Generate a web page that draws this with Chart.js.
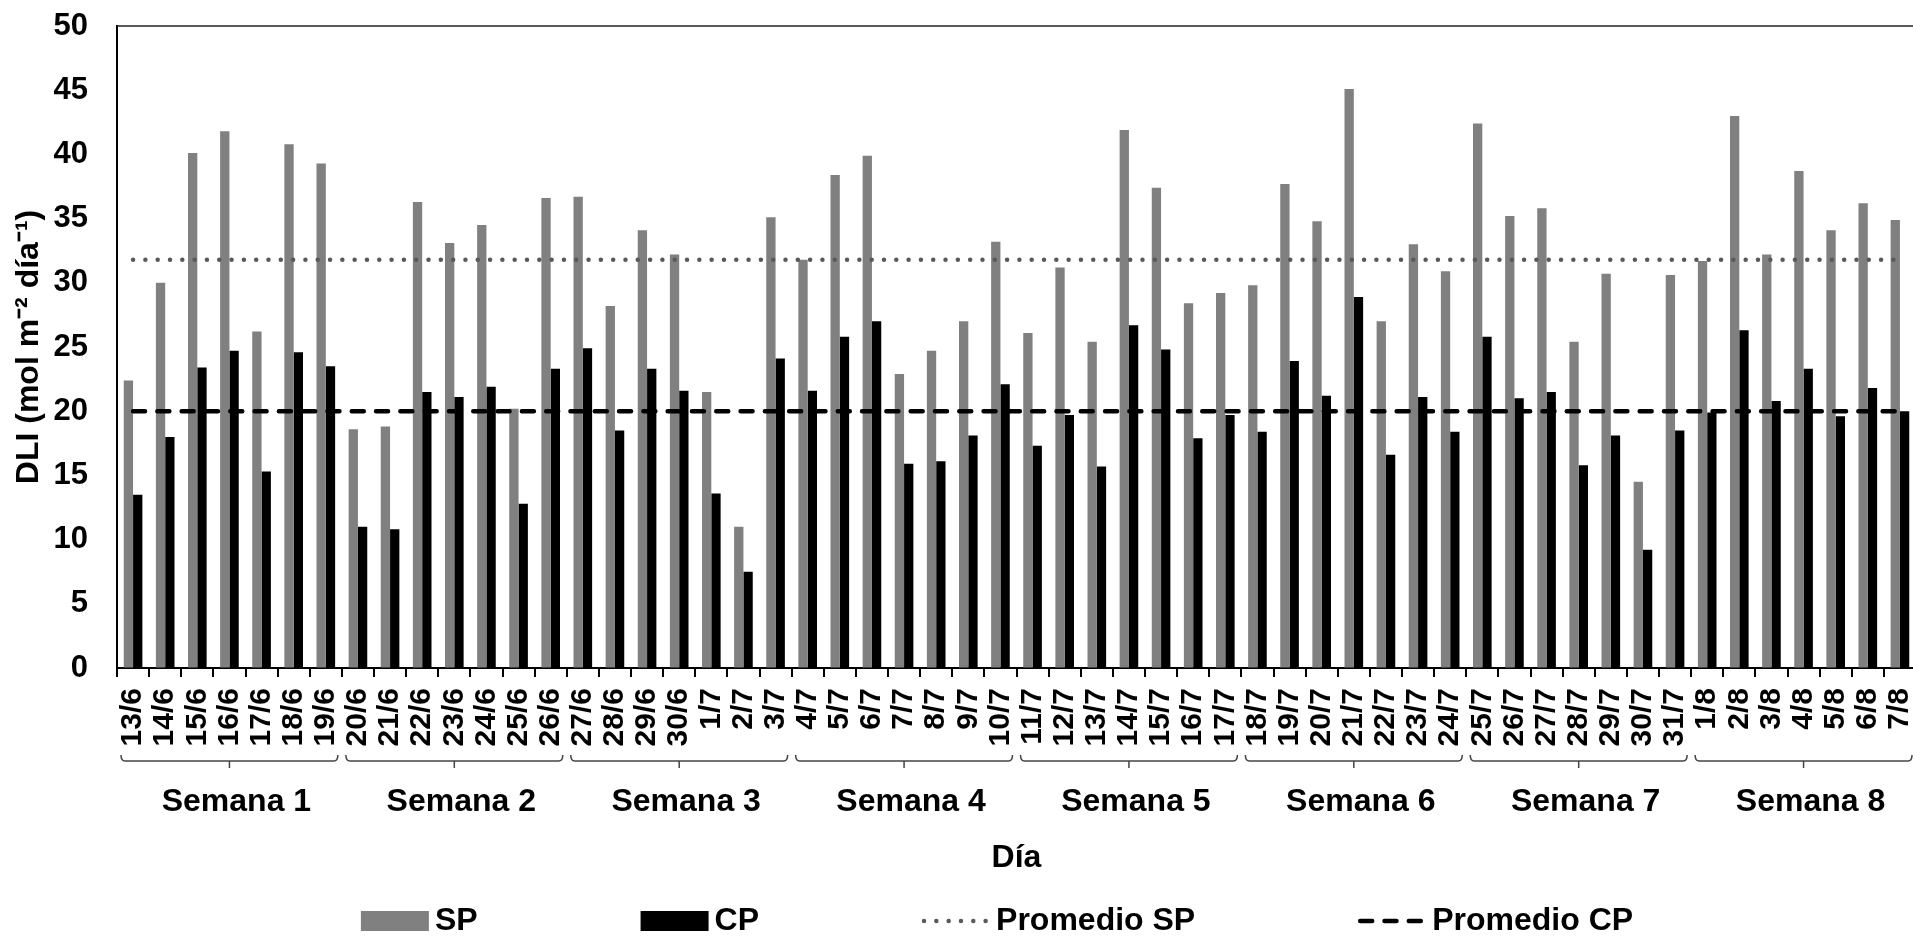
<!DOCTYPE html>
<html>
<head>
<meta charset="utf-8">
<script src="https://cdn.jsdelivr.net/npm/chart.js@4.4.1/dist/chart.umd.min.js"></script>
<style>
  html, body { margin: 0; padding: 0; background: #fff; overflow: hidden; }
  #grafico { display: block; }
</style>
</head>
<body>
<canvas id="grafico" width="1920" height="936"></canvas>
<script>
const dias = [
  "13/6", "14/6", "15/6", "16/6", "17/6", "18/6", "19/6",
  "20/6", "21/6", "22/6", "23/6", "24/6", "25/6", "26/6",
  "27/6", "28/6", "29/6", "30/6", "1/7", "2/7", "3/7",
  "4/7", "5/7", "6/7", "7/7", "8/7", "9/7", "10/7",
  "11/7", "12/7", "13/7", "14/7", "15/7", "16/7", "17/7",
  "18/7", "19/7", "20/7", "21/7", "22/7", "23/7", "24/7",
  "25/7", "26/7", "27/7", "28/7", "29/7", "30/7", "31/7",
  "1/8", "2/8", "3/8", "4/8", "5/8", "6/8", "7/8"
];

const sp = [
  22.4, 30.0, 40.1, 41.8, 26.2, 40.8, 39.3,
  18.6, 18.8, 36.3, 33.1, 34.5, 20.2, 36.6,
  36.7, 28.2, 34.1, 32.2, 21.5, 11.0, 35.1,
  31.8, 38.4, 39.9, 22.9, 24.7, 27.0, 33.2,
  26.1, 31.2, 25.4, 41.9, 37.4, 28.4, 29.2,
  29.8, 37.7, 34.8, 45.1, 27.0, 33.0, 30.9,
  42.4, 35.2, 35.8, 25.4, 30.7, 14.5, 30.6,
  31.7, 43.0, 32.2, 38.7, 34.1, 36.2, 34.9
];

const cp = [
  13.5, 18.0, 23.4, 24.7, 15.3, 24.6, 23.5,
  11.0, 10.8, 21.5, 21.1, 21.9, 12.8, 23.3,
  24.9, 18.5, 23.3, 21.6, 13.6, 7.5, 24.1,
  21.6, 25.8, 27.0, 15.9, 16.1, 18.1, 22.1,
  17.3, 19.7, 15.7, 26.7, 24.8, 17.9, 19.7,
  18.4, 23.9, 21.2, 28.9, 16.6, 21.1, 18.4,
  25.8, 21.0, 21.5, 15.8, 18.1, 9.2, 18.5,
  19.9, 26.3, 20.8, 23.3, 19.6, 21.8, 20.0
];

const promedioSP = 31.8;
const promedioCP = 20.0;

const semanas = ["Semana 1", "Semana 2", "Semana 3", "Semana 4", "Semana 5", "Semana 6", "Semana 7", "Semana 8"];
const diasPorSemana = 7;

const yTicks = [0, 5, 10, 15, 20, 25, 30, 35, 40, 45, 50];

const FUENTE = '"Liberation Sans", Arial, sans-serif';

// llaves de semanas, borde superior y leyenda
const extras = {
  id: 'extras',
  afterDraw(chart) {
    const { ctx, chartArea } = chart;
    const x = chart.scales.x;
    ctx.save();

    ctx.strokeStyle = '#222';
    ctx.lineWidth = 1.5;
    ctx.beginPath();
    ctx.moveTo(chartArea.left, chartArea.top);
    ctx.lineTo(chartArea.right + 10, chartArea.top);
    ctx.stroke();

    const half = (x.getPixelForValue(1) - x.getPixelForValue(0)) / 2;
    ctx.font = 'bold 32px ' + FUENTE;
    ctx.textAlign = 'center';
    ctx.textBaseline = 'middle';
    semanas.forEach((s, i) => {
      const a = x.getPixelForValue(i * diasPorSemana) - half + 4;
      const b = x.getPixelForValue(i * diasPorSemana + diasPorSemana - 1) + half - 4;
      const m = (a + b) / 2;
      const y = 761;
      ctx.strokeStyle = '#444';
      ctx.lineWidth = 1.5;
      ctx.beginPath();
      ctx.moveTo(a, y - 6);
      ctx.quadraticCurveTo(a, y, a + 4, y);
      ctx.lineTo(b - 4, y);
      ctx.quadraticCurveTo(b, y, b, y - 6);
      ctx.moveTo(m, y);
      ctx.lineTo(m, y + 7);
      ctx.stroke();
      ctx.fillStyle = '#000';
      ctx.fillText(s, m + 7, 802);
    });

    // leyenda
    const items = chart.data.datasets;
    ctx.textAlign = 'left';
    const boxW = 68, gapTexto = 6, gapItem = 163;
    const anchos = items.map(d => boxW + gapTexto + ctx.measureText(d.label).width);
    const total = anchos.reduce((a, b) => a + b, 0) + gapItem * (items.length - 1);
    let cx = 997 - total / 2;
    const cy = 921;
    items.forEach((d, i) => {
      if (d.type === 'line') {
        ctx.strokeStyle = d.borderColor;
        ctx.lineWidth = d.borderWidth;
        ctx.lineCap = 'round';
        ctx.setLineDash(d.borderDash);
        ctx.beginPath();
        ctx.moveTo(cx + 2, cy);
        ctx.lineTo(cx + boxW - 2, cy);
        ctx.stroke();
        ctx.setLineDash([]);
      } else {
        ctx.fillStyle = d.backgroundColor;
        ctx.fillRect(cx, cy - 10, boxW, 20);
      }
      ctx.fillStyle = '#000';
      ctx.fillText(d.label, cx + boxW + gapTexto, cy);
      cx += anchos[i] + gapItem;
    });

    ctx.restore();
  }
};

const ctx = document.getElementById("grafico").getContext("2d");
new Chart(ctx, {
  data: {
    labels: dias,
    datasets: [
      {
        type: 'bar',
        label: 'SP',
        data: sp,
        backgroundColor: '#808080',
        categoryPercentage: 0.58,
        barPercentage: 1.0,
        order: 2
      },
      {
        type: 'bar',
        label: 'CP',
        data: cp,
        backgroundColor: '#000000',
        categoryPercentage: 0.58,
        barPercentage: 1.0,
        order: 2
      },
      {
        type: 'line',
        label: 'Promedio SP',
        data: dias.map(() => promedioSP),
        borderColor: '#595959',
        borderWidth: 4.5,
        borderDash: [0.01, 12.3],
        borderCapStyle: 'round',
        pointRadius: 0,
        fill: false,
        order: 1
      },
      {
        type: 'line',
        label: 'Promedio CP',
        data: dias.map(() => promedioCP),
        borderColor: '#000000',
        borderWidth: 4.5,
        borderDash: [12, 12.3],
        borderCapStyle: 'round',
        pointRadius: 0,
        fill: false,
        order: 0
      }
    ]
  },
  options: {
    responsive: false,
    animation: false,
    events: [],
    layout: { padding: { top: 26, right: 4, bottom: 0, left: 0 } },
    plugins: {
      legend: { display: false },
      tooltip: { enabled: false }
    },
    scales: {
      x: {
        type: 'category',
        grid: {
          display: true,
          drawOnChartArea: false,
          drawTicks: true,
          tickLength: 9,
          color: '#000',
          lineWidth: 2,
          offset: true
        },
        border: { display: true, color: '#000', width: 2 },
        ticks: {
          autoSkip: false,
          minRotation: 90,
          maxRotation: 90,
          padding: 11,
          color: '#000',
          font: { family: FUENTE, size: 30, weight: 'bold' }
        },
        title: {
          display: true,
          text: 'Día',
          color: '#000',
          font: { family: FUENTE, size: 32, weight: 'bold' },
          padding: { top: 0, bottom: 59 }
        },
        afterFit(s) {
          s.height = 936 - 668;
          s.paddingLeft = 0;
          s.paddingRight = 0;
        }
      },
      y: {
        min: 0,
        max: 50,
        afterBuildTicks(s) {
          s.ticks = yTicks.map(v => ({ value: v }));
        },
        grid: { display: true, drawOnChartArea: false, drawTicks: false },
        border: { display: true, color: '#000', width: 2 },
        ticks: {
          padding: 29,
          color: '#000',
          font: { family: FUENTE, size: 31, weight: 'bold' }
        },
        title: {
          display: true,
          text: 'DLI (mol m⁻² día⁻¹)',
          color: '#000',
          font: { family: FUENTE, size: 32, weight: 'bold' },
          padding: { top: 10, bottom: 0 }
        },
        afterFit(s) {
          s.width = 117;
          s.paddingTop = 0;
          s.paddingBottom = 0;
        }
      }
    }
  },
  plugins: [extras]
});
</script>
</body>
</html>
